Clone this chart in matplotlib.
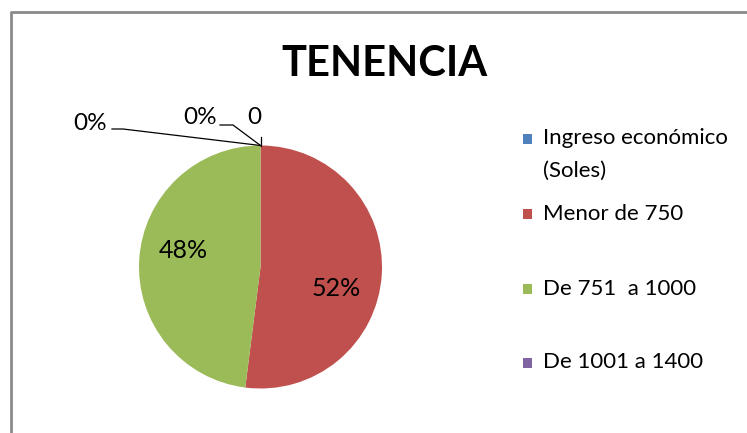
import matplotlib.pyplot as plt
from matplotlib.patches import Rectangle
from matplotlib.lines import Line2D

# data
categories = ['Ingreso económico\n(Soles)', 'Menor de 750', 'De 751  a 1000', 'De 1001 a 1400']
values = [0, 52, 48, 0]
colors = ['#4F81BD', '#C0504D', '#9BBB59', '#8064A2']
inside_labels = ['52%', '48%']
zero_labels = ['0', '0%', '0%']

W, H = 747, 433
FONT = 'Lato'


def Y(y):
    return H - y


fig = plt.figure(figsize=(W / 100, H / 100), dpi=100)
ax = fig.add_axes([0, 0, 1, 1])

cx, cy, r = 260.5, Y(267), 121.5
wedges, _ = ax.pie(values, colors=colors, startangle=90, counterclock=False,
                   center=(cx, cy), radius=r, wedgeprops=dict(linewidth=0))
ax.set_xlim(0, W)
ax.set_ylim(0, H)
ax.set_aspect('equal')
ax.axis('off')

# labels inside the two big slices
ax.text(336, Y(289), inside_labels[0], ha='center', va='center', fontsize=18, family=FONT)
ax.text(183, Y(251), inside_labels[1], ha='center', va='center', fontsize=18, family=FONT)

# zero slices with leader lines to the top of the pie
top = (cx, cy + r)
ax.text(254, Y(118), zero_labels[0], ha='center', va='center', fontsize=17.5, family=FONT)
ax.plot([cx, top[0]], [Y(137), top[1]], color='black', lw=0.9)
ax.text(200, Y(118), zero_labels[1], ha='center', va='center', fontsize=17.5, family=FONT)
ax.plot([220, 233, top[0]], [Y(125), Y(125), top[1]], color='black', lw=0.9)
ax.text(90, Y(123), zero_labels[2], ha='center', va='center', fontsize=17.5, family=FONT)
ax.plot([112, 123, top[0]], [Y(129), Y(129), top[1]], color='black', lw=0.9)

# title
ax.text(384, Y(64), 'TENENCIA', ha='center', va='center', fontsize=30,
        fontweight='bold', family=FONT)

# legend
leg_y = [138.5, 214, 289, 362.5]
for lab, col, yy in zip(categories, colors, leg_y):
    ax.add_patch(Rectangle((523, Y(yy) - 5), 9, 10, color=col, lw=0))
    lines = lab.split('\n')
    for k, line in enumerate(lines):
        ax.text(543, Y(yy + 32 * k), line, ha='left', va='center', fontsize=16, family=FONT)

# chart border (only top and left visible in the crop)
ax.add_line(Line2D([11, 11, W + 5], [-5, Y(12), Y(12)], color='#8a8a8a', lw=2))

fig.savefig('out.png', dpi=100)
